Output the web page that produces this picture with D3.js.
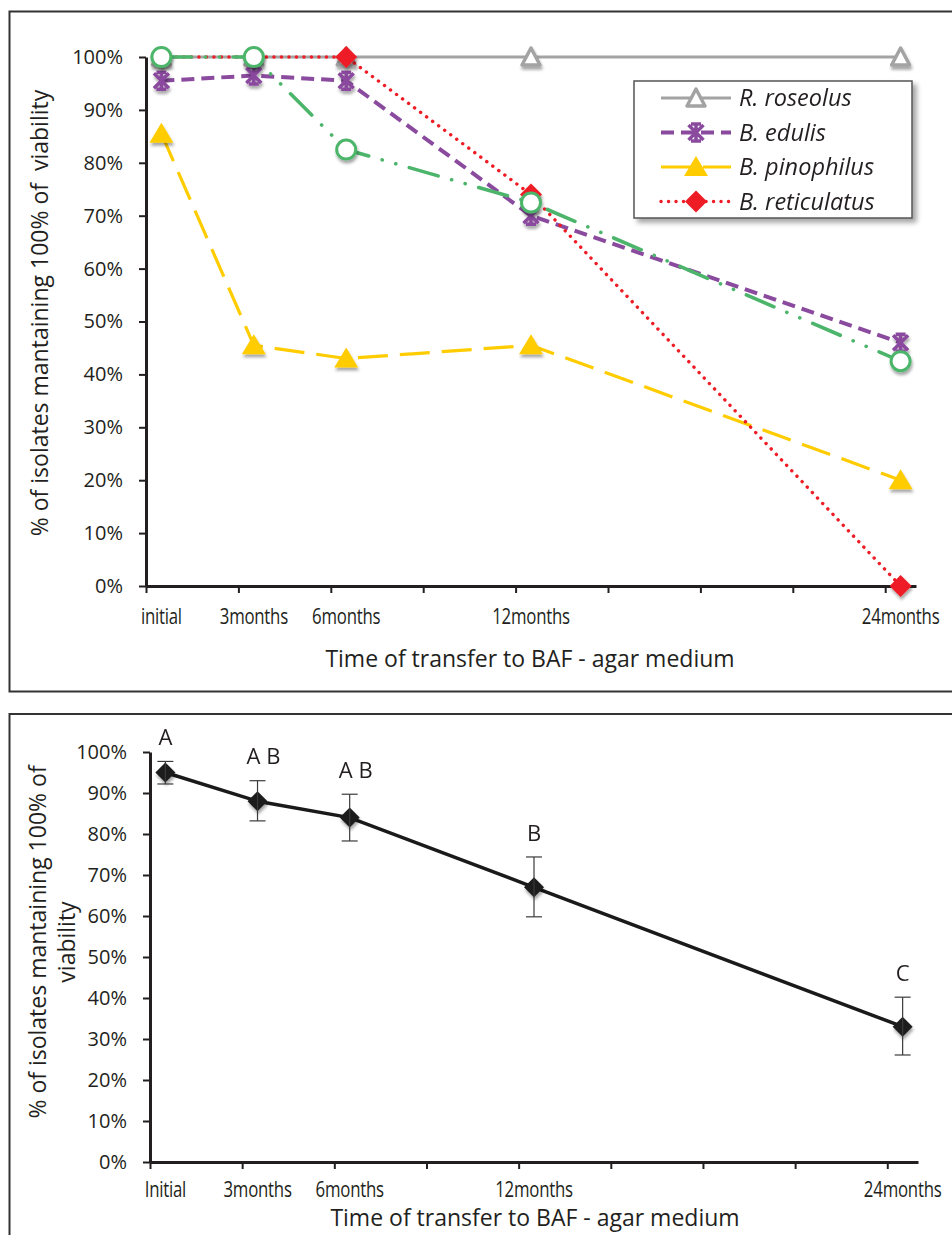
<!DOCTYPE html>
<html>
<head>
<meta charset="utf-8">
<script src="https://cdn.jsdelivr.net/npm/d3@7"></script>
<style>
    body { margin: 0; background: #fff; }
    svg { display: block; font-family: "Open Sans", sans-serif; }
    .axis .domain { stroke: #231f20; stroke-width: 3; }
    .axis .tick line { stroke: #231f20; stroke-width: 2; }
    .axis text { font-size: 20px; fill: #231f20; font-family: "Open Sans", sans-serif; }
    .cat-label { font-size: 21px; fill: #231f20; letter-spacing: -0.3px; word-spacing: -5px; }
    .title { font-size: 23px; fill: #231f20; }
</style>
</head>
<body>
<svg id="chart" width="952" height="1235"></svg>
<script>
// time points (months) and category labels
const months = [0, 3, 6, 12, 24];
const topLabels = ["initial", "3 months", "6 months", "12 months", "24 months"];
const bottomLabels = ["Initial", "3 months", "6 months", "12 months", "24 months"];
const xTicks = [-0.5, 2.5, 5.5, 8.5, 11.5, 14.5, 17.5, 20.5, 23.5];

// top chart: share of isolates per species
const roseolus = [1, 1, 1, 1, 1];
const edulis = [0.955, 0.965, 0.955, 0.70, 0.46];
const pinophilus = [0.855, 0.455, 0.43, 0.455, 0.20];
const reticulatus = [1, 1, 1, 0.74, 0];
const greenSeries = [1, 1, 0.825, 0.725, 0.425];

// bottom chart: mean with error bars and group letters
const meanViability = [0.95, 0.88, 0.84, 0.67, 0.33];
const errLow = [0.922, 0.832, 0.783, 0.598, 0.261];
const errHigh = [0.977, 0.93, 0.897, 0.744, 0.402];
const groups = ["A", "A B", "A B", "B", "C"];

const svg = d3.select("#chart");
const defs = svg.append("defs");

defs.append("filter")
    .attr("id", "shadow")
    .attr("x", "-60%").attr("y", "-60%")
    .attr("width", "220%").attr("height", "220%")
    .append("feDropShadow")
    .attr("dx", 1).attr("dy", 3)
    .attr("stdDeviation", 1.8)
    .attr("flood-color", "#000")
    .attr("flood-opacity", 0.35);

defs.append("filter")
    .attr("id", "boxShadow")
    .attr("x", "-10%").attr("y", "-10%")
    .attr("width", "130%").attr("height", "130%")
    .append("feDropShadow")
    .attr("dx", 4).attr("dy", 4)
    .attr("stdDeviation", 2.5)
    .attr("flood-color", "#000")
    .attr("flood-opacity", 0.35);

// marker shapes, centered on 0,0
function markerPath(type) {
    if (type === "triangleOpen") return "M0,-9L9,8L-9,8Z";
    if (type === "triangle") return "M0,-11L12,9L-12,9Z";
    if (type === "diamond") return "M0,-11L11,0L0,11L-11,0Z";
    if (type === "diamondSmall") return "M0,-10L10,0L0,10L-10,0Z";
    if (type === "star") return "M-7.5,-7.5L7.5,7.5M-7.5,7.5L7.5,-7.5M0,-9L0,9M-5,-8.5L5,-8.5M-5,8.5L5,8.5";
    return "";
}

function drawMarker(g, m) {
    if (m.type === "circle") {
        g.append("circle").attr("r", 9.5)
            .attr("fill", "#fff").attr("stroke", m.color).attr("stroke-width", 3);
    } else if (m.type === "star") {
        g.append("path").attr("d", markerPath("star"))
            .attr("fill", "none").attr("stroke", m.color).attr("stroke-width", 3.5);
    } else if (m.type === "triangleOpen") {
        g.append("path").attr("d", markerPath("triangleOpen"))
            .attr("fill", "#fff").attr("stroke", m.color).attr("stroke-width", 3.5)
            .attr("stroke-linejoin", "round");
    } else {
        g.append("path").attr("d", markerPath(m.type)).attr("fill", m.color);
    }
}

// condensed category labels, squeezed horizontally like the original
function catLabels(g, labels, xs, y) {
    g.selectAll(null)
        .data(labels)
        .enter()
        .append("text")
        .attr("class", "cat-label")
        .attr("text-anchor", "middle")
        .attr("transform", (d, i) => `translate(${xs(months[i])},${y}) scale(0.8,1)`)
        .text(d => d);
}

// panel frames (right and bottom edges run off the page)
svg.append("rect")
    .attr("x", 9.5).attr("y", 11.5).attr("width", 980).attr("height", 680)
    .attr("fill", "none").attr("stroke", "#333").attr("stroke-width", 2);
svg.append("rect")
    .attr("x", 9.5).attr("y", 714).attr("width", 980).attr("height", 600)
    .attr("fill", "none").attr("stroke", "#333").attr("stroke-width", 2);

// ---------- top chart ----------
const x1 = d3.scaleLinear().domain([-0.5, 24.5]).range([146, 916]);
const y1 = d3.scaleLinear().domain([0, 1]).range([586, 57]);

const topChart = svg.append("g");

topChart.append("g")
    .attr("class", "axis")
    .attr("transform", "translate(0,586)")
    .call(d3.axisBottom(x1).tickValues(xTicks).tickFormat("").tickSize(7).tickSizeOuter(0));

topChart.append("g")
    .attr("class", "axis")
    .attr("transform", "translate(146,0)")
    .call(d3.axisLeft(y1).ticks(10).tickFormat(d3.format(".0%")).tickSize(7).tickSizeOuter(0).tickPadding(16));

catLabels(topChart, topLabels, x1, 624);

topChart.append("text")
    .attr("class", "title")
    .attr("text-anchor", "middle")
    .attr("x", 530).attr("y", 667)
    .text("Time of transfer to BAF - agar medium");

topChart.append("text")
    .attr("class", "title")
    .attr("text-anchor", "middle")
    .attr("transform", "translate(48,313) rotate(-90)")
    .style("white-space", "pre")
    .text("% of isolates mantaining 100% of  viability");

const topSeries = [
    { name: "R. roseolus", values: roseolus, color: "#a3a3a3", width: 3, dash: null, cap: "butt", marker: "triangleOpen", legend: true },
    { name: "B. edulis", values: edulis, color: "#8a4a9e", width: 4, dash: "13,7", cap: "butt", marker: "star", legend: true },
    { name: "B. pinophilus", values: pinophilus, color: "#ffcc00", width: 3.2, dash: "30,12", cap: "butt", marker: "triangle", legend: true },
    { name: "B. reticulatus", values: reticulatus, color: "#ee1c25", width: 3.4, dash: "0.1,7.4", cap: "round", marker: "diamond", legend: true },
    { name: "other", values: greenSeries, color: "#4cb56b", width: 3.6, dash: "30,14,0.1,14,0.1,14", cap: "round", marker: "circle", legend: false }
];

const line1 = d3.line()
    .x((d, i) => x1(months[i]))
    .y(d => y1(d));

topSeries.forEach(s => {
    topChart.append("path")
        .datum(s.values)
        .attr("fill", "none")
        .attr("stroke", s.color)
        .attr("stroke-width", s.width)
        .attr("stroke-dasharray", s.dash)
        .attr("stroke-linecap", s.cap)
        .attr("d", line1);

    topChart.append("g")
        .attr("filter", "url(#shadow)")
        .selectAll("g")
        .data(s.values)
        .enter()
        .append("g")
        .attr("transform", (d, i) => `translate(${x1(months[i])},${y1(d)})`)
        .each(function() { drawMarker(d3.select(this), { type: s.marker, color: s.color }); });
});

// legend
const legend = topChart.append("g").attr("transform", "translate(634,81)");
legend.append("rect")
    .attr("width", 278).attr("height", 137)
    .attr("fill", "#fff").attr("stroke", "#555").attr("stroke-width", 1.5)
    .attr("filter", "url(#boxShadow)");

const legendItems = legend.selectAll(".legend-item")
    .data(topSeries.filter(s => s.legend))
    .enter()
    .append("g")
    .attr("class", "legend-item")
    .attr("transform", (d, i) => `translate(0,${17 + i * 34.5})`);

legendItems.append("line")
    .attr("x1", 27).attr("x2", 97)
    .attr("stroke", d => d.color)
    .attr("stroke-width", d => d.width)
    .attr("stroke-dasharray", d => d.dash)
    .attr("stroke-linecap", d => d.cap);

legendItems.append("g")
    .attr("transform", "translate(62,0)")
    .each(function(d) { drawMarker(d3.select(this), { type: d.marker, color: d.color }); });

legendItems.append("text")
    .attr("x", 105).attr("dy", "0.36em")
    .attr("font-size", 23.5).attr("font-style", "italic").attr("fill", "#231f20")
    .text(d => d.name);

// ---------- bottom chart ----------
const x2 = d3.scaleLinear().domain([-0.5, 24.5]).range([150, 918]);
const y2 = d3.scaleLinear().domain([0, 1]).range([1162, 752]);

const bottomChart = svg.append("g");

bottomChart.append("g")
    .attr("class", "axis")
    .attr("transform", "translate(0,1162)")
    .call(d3.axisBottom(x2).tickValues(xTicks).tickFormat("").tickSize(7).tickSizeOuter(0));

bottomChart.append("g")
    .attr("class", "axis")
    .attr("transform", "translate(150,0)")
    .call(d3.axisLeft(y2).ticks(10).tickFormat(d3.format(".0%")).tickSize(7).tickSizeOuter(0).tickPadding(16));

catLabels(bottomChart, bottomLabels, x2, 1197);

bottomChart.append("text")
    .attr("class", "title")
    .attr("text-anchor", "middle")
    .attr("x", 535).attr("y", 1226)
    .text("Time of transfer to BAF - agar medium");

const yTitle2 = bottomChart.append("text")
    .attr("class", "title")
    .attr("text-anchor", "middle")
    .attr("transform", "translate(46,942) rotate(-90)");
yTitle2.append("tspan").attr("x", 0).attr("dy", 0).text("% of isolates mantaining 100% of");
yTitle2.append("tspan").attr("x", 0).attr("dy", 29).text("viability");

const line2 = d3.line()
    .x((d, i) => x2(months[i]))
    .y(d => y2(d));

bottomChart.append("path")
    .datum(meanViability)
    .attr("fill", "none")
    .attr("stroke", "#1a1a1a")
    .attr("stroke-width", 3.5)
    .attr("d", line2);

bottomChart.append("g")
    .attr("filter", "url(#shadow)")
    .selectAll("g")
    .data(meanViability)
    .enter()
    .append("g")
    .attr("transform", (d, i) => `translate(${x2(months[i])},${y2(d)})`)
    .each(function() { drawMarker(d3.select(this), { type: "diamondSmall", color: "#1e1e1e" }); });

// error bars
const errGroup = bottomChart.append("g")
    .attr("stroke", "#3a3a3a")
    .attr("stroke-width", 1.2);

months.forEach((m, i) => {
    const cx = x2(m);
    errGroup.append("line")
        .attr("x1", cx).attr("x2", cx)
        .attr("y1", y2(errLow[i])).attr("y2", y2(errHigh[i]));
    [errLow[i], errHigh[i]].forEach(v => {
        errGroup.append("line")
            .attr("x1", cx - 8).attr("x2", cx + 8)
            .attr("y1", y2(v)).attr("y2", y2(v));
    });
});

bottomChart.selectAll(".group-letter")
    .data(groups)
    .enter()
    .append("text")
    .attr("class", "group-letter")
    .attr("text-anchor", "middle")
    .attr("font-size", 22)
    .attr("fill", "#231f20")
    .attr("x", (d, i) => x2(months[i]) + (d.length > 1 ? 6 : 0))
    .attr("y", (d, i) => y2(errHigh[i]) - 24)
    .attr("dy", "0.35em")
    .text(d => d);
</script>
</body>
</html>
